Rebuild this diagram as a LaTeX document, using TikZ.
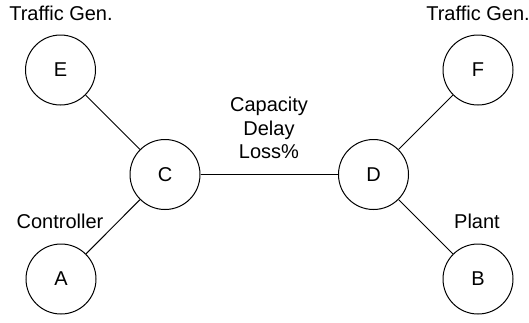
\documentclass[tikz,border=0pt]{standalone}
\usepackage{fontspec}
\setmainfont{Liberation Sans}
\begin{document}
\begin{tikzpicture}[x=1pt,y=1pt,
  every node/.style={font=\fontsize{20}{23.5}\selectfont},
  vertex/.style={circle,draw,line width=1pt,minimum size=70pt,inner sep=0pt},
  link/.style={line width=1pt},
  lbl/.style={anchor=base}]
\useasboundingbox (0,0) rectangle (529,-322);
\node[vertex] (E) at (60.5,-70) {E};
\node[vertex] (F) at (478,-70) {F};
\node[vertex] (C) at (165,-174.5) {C};
\node[vertex] (D) at (373.5,-174.5) {D};
\node[vertex] (A) at (61,-279) {A};
\node[vertex] (B) at (478,-279) {B};
\draw[link] (E) -- (C);
\draw[link] (A) -- (C);
\draw[link] (C) -- (D);
\draw[link] (D) -- (F);
\draw[link] (D) -- (B);
\node[lbl] (tgl) at (61,-20) {Traffic Gen.};
\node[lbl] (tgr) at (478,-20) {Traffic Gen.};
\node[lbl] (ctrl) at (60,-228) {Controller};
\node[lbl] (plant) at (477,-228) {Plant};
\node[align=center,inner sep=0pt] (cdl) at (269,-128) {Capacity\\Delay\\Loss\%};
\end{tikzpicture}
\end{document}
